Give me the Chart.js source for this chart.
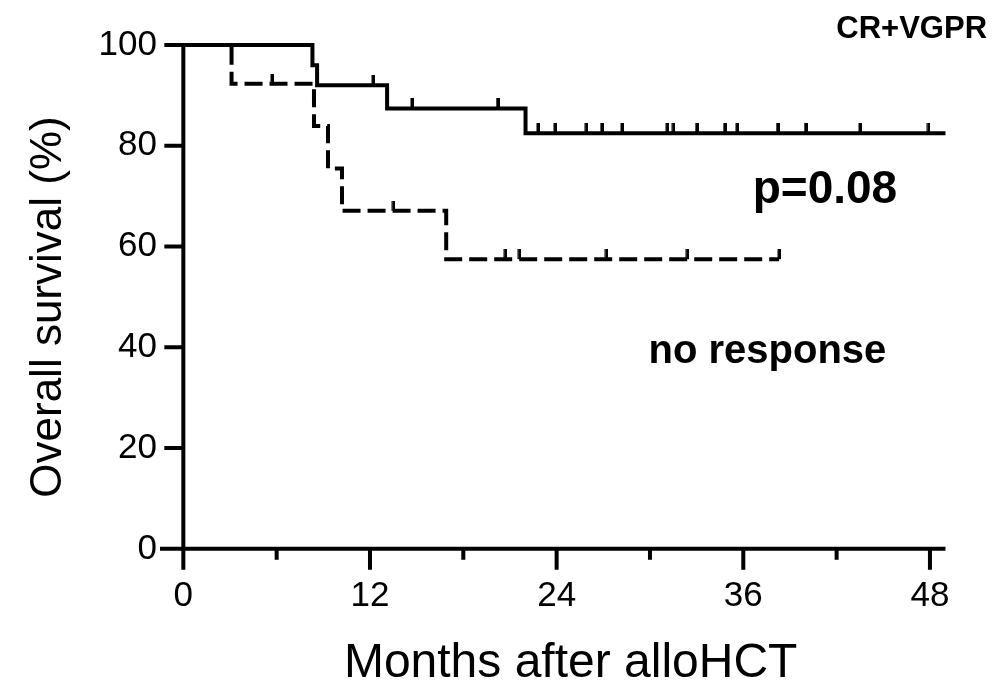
<!DOCTYPE html>
<html>
<head>
<meta charset="utf-8">
<title>Overall survival after alloHCT</title>
<script src="https://cdn.jsdelivr.net/npm/chart.js@4.4.1/dist/chart.umd.min.js"></script>
<style>
    html, body { margin: 0; padding: 0; background: #fff; }
    #wrap { width: 1002px; height: 682px; position: relative; }
</style>
</head>
<body>
<div id="wrap"><canvas id="myChart"></canvas></div>
<script>
// CR+VGPR group (solid line): step times (months) and survival (%)
const crMonths = [0, 8.3, 8.6, 13.1, 22.0, 49.0];
const crSurvival = [100, 96.0, 92.0, 87.4, 82.5, 82.5];
const crCensored = [12.2, 14.7, 20.2, 22.8, 23.9, 25.9, 26.9, 28.2, 31.1, 31.5, 33.0, 34.8, 35.6, 38.2, 40.0, 43.5, 47.9];

// no response group (dashed line)
const nrMonths = [0, 3.1, 8.4, 9.3, 10.2, 16.9, 38.3];
const nrSurvival = [100, 92.3, 83.9, 75.5, 67.1, 57.5, 57.5];
const nrCensored = [5.7, 13.5, 20.7, 21.6, 27.2, 32.4, 38.3];

const xTicks = [0, 12, 24, 36, 48];
const xMinorTicks = [6, 18, 30, 42];
const yTicks = [0, 20, 40, 60, 80, 100];

const fontFamily = '"Liberation Sans", Arial, Helvetica, sans-serif';
Chart.defaults.font.family = fontFamily;
Chart.defaults.color = '#000';

// survival value of a step curve at time t (for placing censor ticks)
function survivalAt(months, surv, t) {
    let s = surv[0];
    for (let i = 0; i < months.length; i++) {
        if (months[i] <= t) s = surv[i];
    }
    return s;
}

function toPoints(months, surv) {
    return months.map((m, i) => ({ x: m, y: surv[i] }));
}

function censorPoints(times, months, surv) {
    return times.map((t) => ({ x: t, y: survivalAt(months, surv, t) }));
}

// small vertical tick above the line, used as censor mark
function makeCensorMark() {
    const c = document.createElement('canvas');
    c.width = 4;
    c.height = 20;
    const g = c.getContext('2d');
    g.fillStyle = '#000';
    g.fillRect(0.5, 0, 3.5, 10);
    return c;
}
const censorMark = makeCensorMark();

// axes drawn as a cross at the origin, with long and short ticks
const axesPlugin = {
    id: 'kmAxes',
    beforeDatasetsDraw(chart) {
        const { ctx, scales: { x, y } } = chart;
        const x0 = x.getPixelForValue(0);
        const y0 = y.getPixelForValue(0);
        ctx.save();
        ctx.strokeStyle = '#000';
        ctx.lineWidth = 4;
        ctx.lineCap = 'butt';
        ctx.beginPath();
        ctx.moveTo(x0, y.getPixelForValue(100) - 2);
        ctx.lineTo(x0, y.bottom);
        ctx.moveTo(x.left, y0);
        ctx.lineTo(x.right, y0);
        yTicks.forEach((v) => {
            const p = y.getPixelForValue(v);
            ctx.moveTo(x0 - 19, p);
            ctx.lineTo(x0, p);
        });
        xTicks.forEach((v) => {
            const p = x.getPixelForValue(v);
            ctx.moveTo(p, y0);
            ctx.lineTo(p, y0 + 21);
        });
        xMinorTicks.forEach((v) => {
            const p = x.getPixelForValue(v);
            ctx.moveTo(p, y0);
            ctx.lineTo(p, y0 + 11);
        });
        ctx.stroke();
        ctx.restore();
    }
};

const labelsPlugin = {
    id: 'kmLabels',
    afterDraw(chart) {
        const { ctx, scales: { x, y } } = chart;
        ctx.save();
        ctx.fillStyle = '#000';
        ctx.textBaseline = 'alphabetic';

        ctx.font = 'bold 31px ' + fontFamily;
        ctx.textAlign = 'right';
        ctx.fillText('CR+VGPR', x.getPixelForValue(51.67), y.getPixelForValue(101.4));

        ctx.textAlign = 'center';
        ctx.font = 'bold 46px ' + fontFamily;
        ctx.fillText('p=0.08', x.getPixelForValue(41.25), y.getPixelForValue(68.65));

        ctx.font = 'bold 40px ' + fontFamily;
        ctx.fillText('no response', x.getPixelForValue(37.55), y.getPixelForValue(36.9));

        // x axis title, sits a little right of the axis centre
        ctx.font = '48px ' + fontFamily;
        ctx.fillText('Months after alloHCT', x.getPixelForValue(24.9), 677);
        ctx.restore();
    }
};

const config = {
    type: 'line',
    data: {
        datasets: [
            {
                label: 'no response',
                data: toPoints(nrMonths, nrSurvival),
                stepped: 'before',
                borderColor: '#000',
                borderWidth: 4,
                borderDash: [18, 7],
                borderCapStyle: 'butt',
                pointRadius: 0,
                fill: false,
                clip: false
            },
            {
                label: 'CR+VGPR',
                data: toPoints(crMonths, crSurvival),
                stepped: 'before',
                borderColor: '#000',
                borderWidth: 4,
                borderCapStyle: 'butt',
                borderJoinStyle: 'miter',
                pointRadius: 0,
                fill: false,
                clip: false
            },
            {
                label: 'no response censored',
                data: censorPoints(nrCensored, nrMonths, nrSurvival),
                showLine: false,
                pointStyle: censorMark,
                pointRadius: 5,
                clip: false
            },
            {
                label: 'CR+VGPR censored',
                data: censorPoints(crCensored, crMonths, crSurvival),
                showLine: false,
                pointStyle: censorMark,
                pointRadius: 5,
                clip: false
            }
        ]
    },
    options: {
        responsive: true,
        maintainAspectRatio: false,
        animation: false,
        layout: { padding: { top: 45, right: 56.5, left: 0, bottom: 0 } },
        plugins: {
            legend: { display: false },
            tooltip: { enabled: false }
        },
        scales: {
            x: {
                type: 'linear',
                min: -1.5,
                max: 49,
                grid: { display: false, drawTicks: false },
                border: { display: false },
                afterBuildTicks: (scale) => {
                    scale.ticks = xTicks.map((v) => ({ value: v }));
                },
                afterFit: (scale) => { scale.height = 113; },
                ticks: {
                    font: { size: 35 },
                    color: '#000',
                    padding: 6,
                    maxRotation: 0,
                    autoSkip: false
                },
                title: { display: false }
            },
            y: {
                type: 'linear',
                min: -4,
                max: 100,
                grid: { display: false, drawTicks: false },
                border: { display: false },
                afterBuildTicks: (scale) => {
                    scale.ticks = yTicks.map((v) => ({ value: v }));
                },
                afterFit: (scale) => { scale.width = 160; },
                ticks: {
                    font: { size: 35 },
                    color: '#000',
                    padding: 3,
                    autoSkip: false
                },
                title: {
                    display: true,
                    text: 'Overall survival (%)',
                    font: { size: 44 },
                    color: '#000',
                    padding: { top: 22, bottom: 0 }
                }
            }
        }
    },
    plugins: [axesPlugin, labelsPlugin]
};

const ctx = document.getElementById('myChart').getContext('2d');
const myChart = new Chart(ctx, config);
</script>
</body>
</html>
